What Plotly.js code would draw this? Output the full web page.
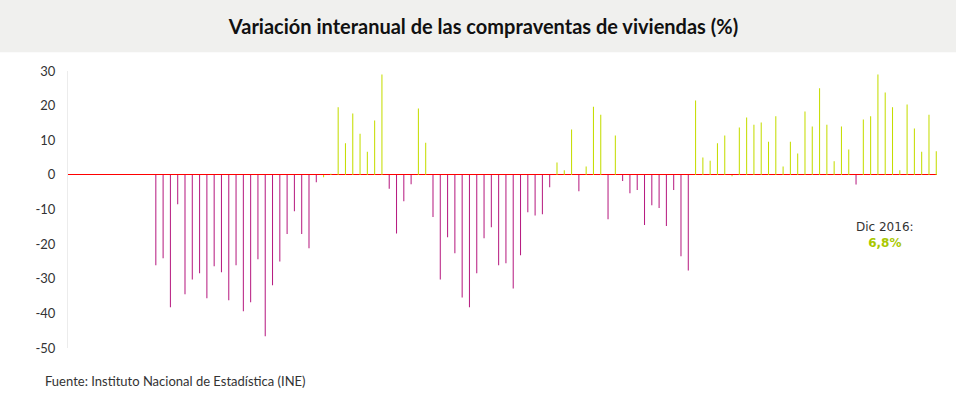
<!DOCTYPE html>
<html>
<head>
<meta charset="utf-8">
<script src="https://cdn.plot.ly/plotly-3.0.1.min.js"></script>
<style>
html,body{margin:0;padding:0;background:#fff;}
#chart{width:956px;height:394px;}
</style>
</head>
<body>
<div id="chart"></div>
<script>
const years = [2007, 2008, 2009, 2010, 2011, 2012, 2013, 2014, 2015, 2016];
const monthNames = ["Ene","Feb","Mar","Abr","May","Jun","Jul","Ago","Sep","Oct","Nov","Dic"];

// Variación interanual (%) por año, de enero a diciembre
const v2007 = [null,null,null,null,null,null,null,null,null,null,null,null];
const v2008 = [-26.1,-24.1,-38.2,-8.5,-34.5,-30.2,-28.4,-35.6,-26.4,-28.1,-36.2,-26.1];
const v2009 = [-39.4,-36.8,-24.4,-46.6,-31.9,-25.0,-17.1,-10.5,-17.1,-21.2,-2.1,-0.7];
const v2010 = [0.3,19.5,9.1,17.7,11.9,6.7,15.7,29.0,-4.0,-16.9,-7.6,-2.7];
const v2011 = [19.2,9.3,-12.2,-30.2,-18.0,-22.6,-35.4,-38.2,-28.4,-18.3,-15.1,-26.1];
const v2012 = [-25.5,-32.8,-23.2,-10.8,-11.7,-11.4,-3.6,3.6,1.3,13.1,-4.7,2.4];
const v2013 = [19.7,17.4,-12.8,11.4,-1.8,-5.3,-4.4,-14.5,-8.8,-9.6,-14.8,-4.4];
const v2014 = [-23.5,-27.6,21.5,5.0,4.1,9.1,11.4,-0.4,13.7,16.6,14.5,15.1];
const v2015 = [9.6,16.9,2.4,9.6,6.2,18.3,14.0,25.0,14.5,3.9,14.0,7.3];
const v2016 = [-2.8,16.0,16.9,29.0,23.8,19.5,1.3,20.3,13.4,6.7,17.4,6.8];

const yTicks = [30, 20, 10, 0, -10, -20, -30, -40, -50];

const values = [].concat(v2007, v2008, v2009, v2010, v2011, v2012, v2013, v2014, v2015, v2016);
const categories = [];
years.forEach(y => monthNames.forEach(m => categories.push(m + " " + y)));

const POS = "#c6de00", NEG = "#b81f83";
const colors = values.map(v => (v === null ? POS : (v >= -1 ? POS : NEG)));

const lastIdx = categories.length - 1;
const lastVal = values[lastIdx];

const trace = {
  type: "bar",
  x: categories,
  y: values,
  width: 0.14,
  marker: {color: colors, line: {width: 0.02, color: colors}},
  hoverinfo: "x+y"
};

const FONT = "Lato, 'Open Sans', sans-serif";

const layout = {
  width: 956,
  height: 394,
  margin: {l: 67.5, r: 18.5, t: 70.7, b: 46.3, pad: 0},
  paper_bgcolor: "#ffffff",
  plot_bgcolor: "#ffffff",
  showlegend: false,
  bargap: 0,
  title: {
    text: "<b>Variación interanual de las compraventas de viviendas (%)</b>",
    font: {family: FONT, size: 20, color: "#111111", weight: 900},
    x: 483.5 / 956, xanchor: "center",
    y: 1 - 26.5/394, yanchor: "middle",
    xref: "container", yref: "container"
  },
  xaxis: {
    type: "category",
    range: [-0.04, lastIdx + 0.1],
    showticklabels: false,
    ticks: "",
    showgrid: false,
    zeroline: false,
    showline: false,
    fixedrange: true
  },
  yaxis: {
    range: [-50, 30],
    tickvals: yTicks,
    ticktext: yTicks.map(String),
    ticks: "",
    ticklabelstandoff: 9,
    tickfont: {family: FONT, size: 13, color: "#333333"},
    showgrid: false,
    zeroline: true,
    zerolinecolor: "#ff0000",
    zerolinewidth: 1,
    showline: true,
    linecolor: "#ececec",
    linewidth: 1,
    fixedrange: true
  },
  shapes: [{
    type: "rect", xref: "paper", yref: "paper", layer: "below",
    x0: -0.2, x1: 1.2,
    y0: (347.7 - 52) / 277, y1: 1.5,
    fillcolor: "#f0f0ee", line: {width: 0}
  }],
  annotations: [
    {
      x: categories[lastIdx - 7], y: -17.5, xref: "x", yref: "y",
      xanchor: "center", yanchor: "middle", showarrow: false,
      align: "center",
      text: "Dic 2016:<br><b><span style='color:#a9c800'>" + String(lastVal).replace(".", ",") + "%</span></b>",
      font: {family: "'DejaVu Sans', sans-serif", size: 12, color: "#333333"}
    },
    {
      xref: "paper", yref: "paper",
      x: (42 - 67.5) / 870, y: (347.7 - 381) / 277,
      xanchor: "left", yanchor: "middle", showarrow: false,
      text: "Fuente: Instituto Nacional de Estadística (INE)",
      font: {family: FONT, size: 13, color: "#333333"}
    }
  ]
};

Plotly.newPlot("chart", [trace], layout, {displayModeBar: false, staticPlot: true});
</script>
</body>
</html>
